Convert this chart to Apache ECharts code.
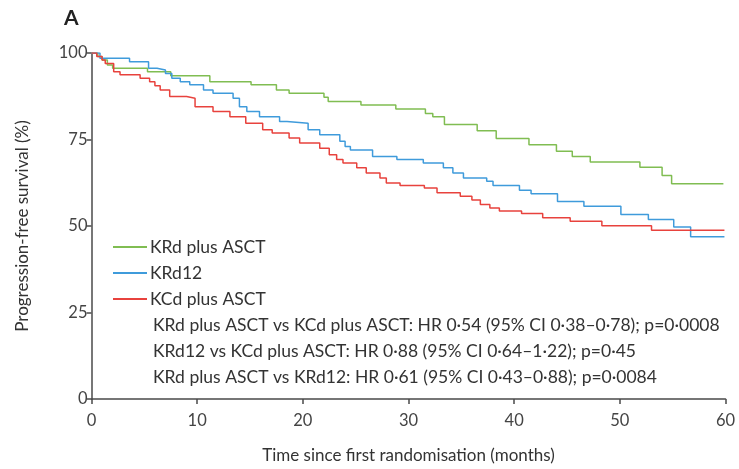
<!DOCTYPE html>
<html>
<head>
<meta charset="utf-8">
<script src="https://cdn.jsdelivr.net/npm/echarts@6/dist/echarts.min.js"></script>
<style>
html,body{margin:0;padding:0;background:#fff;}
#chart{width:739px;height:469px;}
</style>
</head>
<body>
<div id="chart"></div>
<script>
// Series names
const seriesNames = ['KRd plus ASCT', 'KRd12', 'KCd plus ASCT'];

// KRd plus ASCT (green) — time (months) and survival (%)
const greenT = [0, 0.6, 1.0, 1.5, 2.0, 5.3, 7.5, 11.2, 15.1, 17.5, 18.7, 22.0, 22.4, 25.5, 28.8, 31.6, 32.3, 33.4, 36.5, 38.3, 41.4, 44.0, 45.5, 47.2, 51.9, 54.0, 54.9, 59.8];
const greenS = [100, 99, 98, 96.5, 95.6, 94.6, 93.4, 91.7, 90.8, 89.3, 88.4, 87.2, 86.0, 85.0, 83.8, 82.5, 81.6, 79.3, 77.5, 75.3, 73.5, 71.6, 70.1, 68.5, 67.0, 64.6, 62.2, 62.2];

// KRd12 (blue)
const blueT = [0, 0.8, 3.6, 5.4, 6.2, 7.0, 7.6, 8.4, 9.3, 10.6, 11.5, 13.4, 14.0, 14.7, 15.9, 17.8, 18.5, 20.5, 21.6, 23.5, 24.0, 24.5, 26.6, 28.9, 31.4, 33.3, 34.2, 35.2, 37.4, 38.0, 40.5, 41.6, 44.1, 46.6, 50.1, 52.7, 55.1, 56.7, 59.9];
const blueS = [100, 98.5, 97.5, 95.6, 95.1, 94.1, 92.7, 91.7, 90.8, 89.3, 88.4, 86.9, 84.5, 83.1, 81.6, 80.2, 79.7, 77.8, 76.4, 74.5, 73.0, 72.0, 70.1, 69.2, 68.2, 66.8, 65.3, 63.9, 62.9, 61.7, 60.3, 59.3, 57.1, 55.7, 53.3, 51.9, 49.7, 46.9, 46.9];

// KCd plus ASCT (red)
const redT = [0, 0.5, 1.0, 1.3, 2.1, 2.7, 4.6, 5.5, 6.0, 6.5, 7.4, 9.0, 9.8, 11.5, 13.1, 14.6, 16.2, 17.1, 18.7, 19.7, 21.6, 22.5, 23.2, 23.8, 25.1, 26.0, 27.3, 27.9, 29.2, 31.5, 32.7, 34.9, 36.0, 36.8, 37.7, 38.6, 40.7, 42.7, 45.3, 48.3, 53.0, 59.9];
const redS = [100, 99, 98, 97, 94.6, 93.7, 92.7, 91.7, 90.5, 89.3, 87.4, 86.9, 84.5, 83.1, 81.6, 79.7, 77.8, 76.9, 75.4, 74.0, 72.5, 70.6, 69.2, 68.2, 66.8, 65.3, 63.9, 62.4, 61.7, 61.0, 59.6, 58.6, 57.5, 56.2, 55.2, 54.3, 53.6, 52.4, 51.4, 50.1, 48.8, 48.8];

// Statistics text lines
const statLines = [
  'KRd plus ASCT vs KCd plus ASCT: HR 0\u00b754 (95% CI 0\u00b738\u20130\u00b778); p=0\u00b70008',
  'KRd12 vs KCd plus ASCT: HR 0\u00b788 (95% CI 0\u00b764\u20131\u00b722); p=0\u00b745',
  'KRd plus ASCT vs KRd12: HR 0\u00b761 (95% CI 0\u00b743\u20130\u00b788); p=0\u00b70084'
];

const panelLabel = 'A';
const xAxisTitle = 'Time since first randomisation (months)';
const yAxisTitle = 'Progression-free survival (%)';

const colors = ['#80bd52', '#3f9bdb', '#e8423d'];
const FONT = 'Lato';

function pairs(t, s) { return t.map((v, i) => [v, s[i]]); }

const chart = echarts.init(document.getElementById('chart'), null, {renderer: 'canvas'});
const axisCol = '#4a4a4a';
chart.setOption({
  animation: false,
  backgroundColor: '#fff',
  textStyle: {fontFamily: FONT},
  title: [
    {text: panelLabel, left: 59, top: 3, textStyle: {fontFamily: FONT, fontSize: 21, fontWeight: 'bold', color: '#222'}},
    {text: statLines.join('\n'), left: 148, top: 307, textStyle: {fontFamily: FONT, fontSize: 17.5, fontWeight: 'normal', color: '#333', lineHeight: 26}}
  ],
  legend: {
    orient: 'vertical',
    left: 108,
    top: 233,
    itemWidth: 34,
    itemHeight: 2,
    itemGap: 8,
    icon: 'rect',
    textStyle: {fontFamily: FONT, fontSize: 17.5, color: '#333', padding: [0, 0, 0, -2]},
    data: seriesNames
  },
  grid: {left: 91.5, right: 13.5, top: 53, bottom: 69, containLabel: false},
  xAxis: {
    type: 'value', min: 0, max: 60, interval: 10,
    name: xAxisTitle, nameLocation: 'middle', nameGap: 48,
    nameTextStyle: {fontFamily: FONT, fontSize: 17, color: '#333'},
    axisLine: {lineStyle: {color: axisCol, width: 1.5}},
    axisTick: {show: true, length: 5, lineStyle: {color: axisCol, width: 1.5}},
    axisLabel: {fontFamily: FONT, fontSize: 16.5, color: '#444', margin: 13},
    splitLine: {show: false}
  },
  yAxis: {
    type: 'value', min: 0, max: 100, interval: 25,
    name: yAxisTitle, nameLocation: 'middle', nameGap: 60,
    nameTextStyle: {fontFamily: FONT, fontSize: 17, color: '#333'},
    axisLine: {show: true, lineStyle: {color: axisCol, width: 1.5}},
    axisTick: {show: true, length: 5, lineStyle: {color: axisCol, width: 1.5}},
    axisLabel: {fontFamily: FONT, fontSize: 16.5, color: '#444', margin: 4},
    splitLine: {show: false}
  },
  series: [
    {name: seriesNames[0], type: 'line', step: 'end', showSymbol: false, symbol: 'none', data: pairs(greenT, greenS), lineStyle: {color: colors[0], width: 1.5}, itemStyle: {color: colors[0]}},
    {name: seriesNames[1], type: 'line', step: 'end', showSymbol: false, symbol: 'none', data: pairs(blueT, blueS), lineStyle: {color: colors[1], width: 1.5}, itemStyle: {color: colors[1]}},
    {name: seriesNames[2], type: 'line', step: 'end', showSymbol: false, symbol: 'none', data: pairs(redT, redS), lineStyle: {color: colors[2], width: 1.5}, itemStyle: {color: colors[2]}}
  ]
});
</script>
</body>
</html>
